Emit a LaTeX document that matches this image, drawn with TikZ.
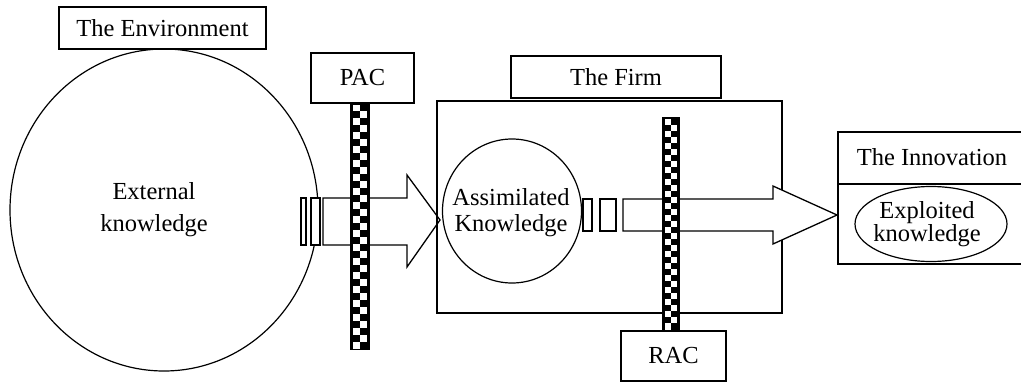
\documentclass[tikz,border=0pt]{standalone}
\usepackage{fontspec}
\setmainfont{Liberation Serif}
\usetikzlibrary{shapes.geometric}
\newcommand\ckbar[6]{%
  \begin{scope}
    \fill[black] (#1,#2) rectangle (#3,#4);
    \clip (#1+#5,#2+1.5) rectangle (#3-#5,#4-1.5);
    \pgfmathsetmacro\ckw{(#3-#1-2*#5)/2}
    \pgfmathsetmacro\ckh{(#4-#2-3)/#6}
    \foreach \r in {0,2,...,#6} {
      \fill[white] (#1+#5, #2+1.5+\r*\ckh) rectangle ++(\ckw,\ckh);
      \fill[white] (#1+#5+\ckw, #2+1.5+\r*\ckh+\ckh) rectangle ++(\ckw,\ckh);
    }
  \end{scope}}
\tikzset{
  lbl/.style={draw, line width=1.7pt, fill=white, inner sep=0pt, font=\fontsize{24.5}{26}\selectfont},
  ring/.style={draw, ellipse, line width=1.2pt, inner sep=0pt},
  txt/.style={align=center, inner sep=0pt},
  blockarrow/.style={draw, line width=1.3pt, fill=white, line join=miter},
  slot/.style={draw, line width=1.2pt, fill=white}
}
\begin{document}
\begin{tikzpicture}[x=1pt,y=-1pt]
\useasboundingbox (0,0) rectangle (1021,383);
\clip (0,0) rectangle (1021,383);
\fill[white] (0,0) rectangle (1021,383);

% Environment
\node[ring, minimum width=308pt, minimum height=322pt] (ext) at (164,210) {};
\node[txt, font=\fontsize{24.5}{32}\selectfont] (extlbl) at (154,210) {External\\knowledge};
\node[lbl, minimum width=207pt, minimum height=42pt] (env) at (162.5,28) {The Environment};

% arrow 1
\draw[blockarrow] (323,198) -- (407,198) -- (407,175) -- (440,220) -- (407,267) -- (407,245) -- (323,245) -- cycle;
\draw[slot] (301,198) rectangle (306,245);
\draw[slot] (311,198) rectangle (320,245);

% PAC
\ckbar{350}{103}{370}{350}{3}{35}
\node[lbl, minimum width=103pt, minimum height=50pt] (pac) at (362.5,78) {PAC};

% Firm
\node[draw, line width=1.7pt, minimum width=345pt, minimum height=212pt, inner sep=0pt] (firm) at (609.5,207) {};
\node[lbl, minimum width=210pt, minimum height=42pt] (firmlbl) at (616,77) {The Firm};
\node[ring, minimum width=139pt, minimum height=144pt] (assim) at (512,211) {};
\node[txt, font=\fontsize{24.5}{26}\selectfont] (assimlbl) at (511,213) {Assimilated\\Knowledge};

% arrow 2
\draw[blockarrow] (623,199) -- (773,199) -- (773,186) -- (837,215) -- (773,244) -- (773,231) -- (623,231) -- cycle;
\draw[slot] (583,199) rectangle (592,231);
\draw[slot] (600,199) rectangle (616,231);

% RAC
\ckbar{662}{117}{680}{331}{3}{35}
\node[lbl, minimum width=105pt, minimum height=50pt] (rac) at (673.5,356) {RAC};

% Innovation
\node[lbl, minimum width=230pt, minimum height=52pt, anchor=north west] (innov) at (837,131) {};
\node[txt, font=\fontsize{24.5}{26}\selectfont] (innovlbl) at (932,157) {The Innovation};
\node[lbl, minimum width=230pt, minimum height=80pt, anchor=north west] (innovbody) at (837,183) {};
\node[ring, minimum width=152pt, minimum height=75pt] (expl) at (931,224) {};
\node[txt, font=\fontsize{24.5}{22}\selectfont] (expllbl) at (927,224) {Exploited\\knowledge};
\end{tikzpicture}
\end{document}
